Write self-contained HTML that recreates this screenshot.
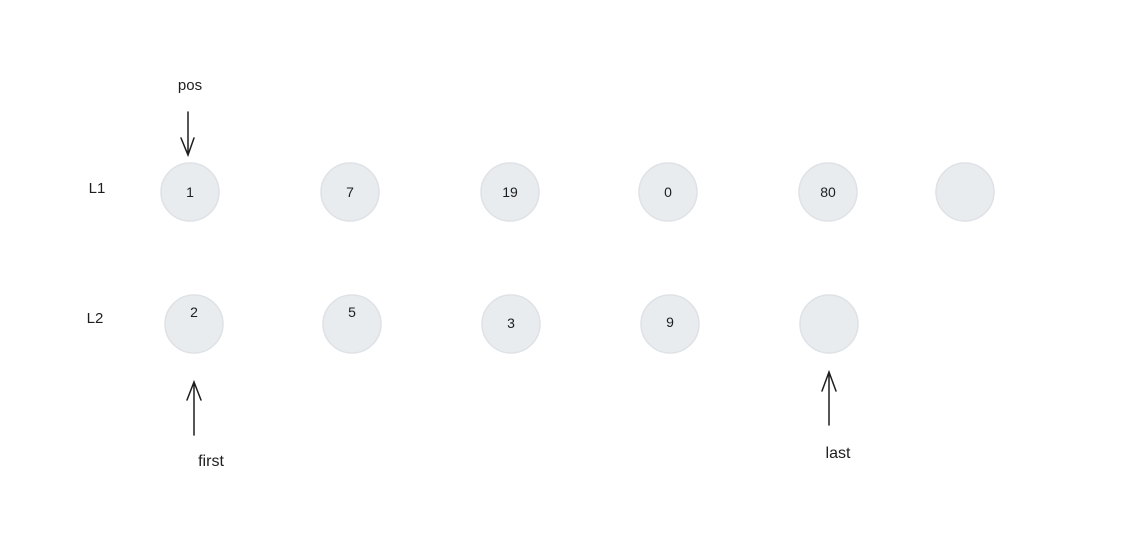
<!DOCTYPE html>
<html><head><meta charset="utf-8"><style>
html,body{margin:0;padding:0;background:#fff;}
svg{display:block;}
text{font-family:"Liberation Sans",sans-serif;fill:#1e1e1e;}
</style></head><body>
<svg id="c" width="1146" height="545" viewBox="0 0 1146 545">
<text x="97" y="193" font-size="15" text-anchor="middle">L1</text>
<text x="95" y="323" font-size="15" text-anchor="middle">L2</text>
<text x="190" y="90" font-size="15" text-anchor="middle">pos</text>
<text x="211" y="466" font-size="16" text-anchor="middle">first</text>
<text x="838" y="458" font-size="16" text-anchor="middle">last</text>
<g stroke="#1e1e1e" stroke-width="1.5" fill="none" stroke-linecap="round">
<path d="M188 112 L188 155 M181 138 L188 155 L194 138"/>
<path d="M194 435 L194 382 M187 400 L194 382 L201 400"/>
<path d="M829 425 L829 372 M822 391 L829 372 L836 391"/>
</g>
<g id="nodes"></g>
</svg>
<script>
const l1Values=["1","7","19","0","80",""];
const l1X=[190,350,510,668,828,965];
const l2Values=["2","5","3","9",""];
const l2X=[194,352,511,670,829];
const g=document.getElementById('nodes');
function node(x,y,label,name,ty){
  const c=document.createElementNS('http://www.w3.org/2000/svg','circle');
  c.setAttribute('cx',x);c.setAttribute('cy',y);c.setAttribute('r',29);
  c.setAttribute('fill','#e9ecef');c.setAttribute('stroke','#dee2e6');c.setAttribute('stroke-width','1.5');
  
  
  g.appendChild(c);
  if(label){
    const t=document.createElementNS('http://www.w3.org/2000/svg','text');
    t.setAttribute('x',x);t.setAttribute('y',ty);t.setAttribute('text-anchor','middle');t.setAttribute('font-size','14');
    t.textContent=label;
    
    
    g.appendChild(t);
  }
}
l1Values.forEach((v,i)=>node(l1X[i],192,v,'l1-node-'+(i+1),197));
const l2Y=[317,317,328,327,0];
l2Values.forEach((v,i)=>node(l2X[i],324,v,'l2-node-'+(i+1),l2Y[i]));
</script>
</body></html>
